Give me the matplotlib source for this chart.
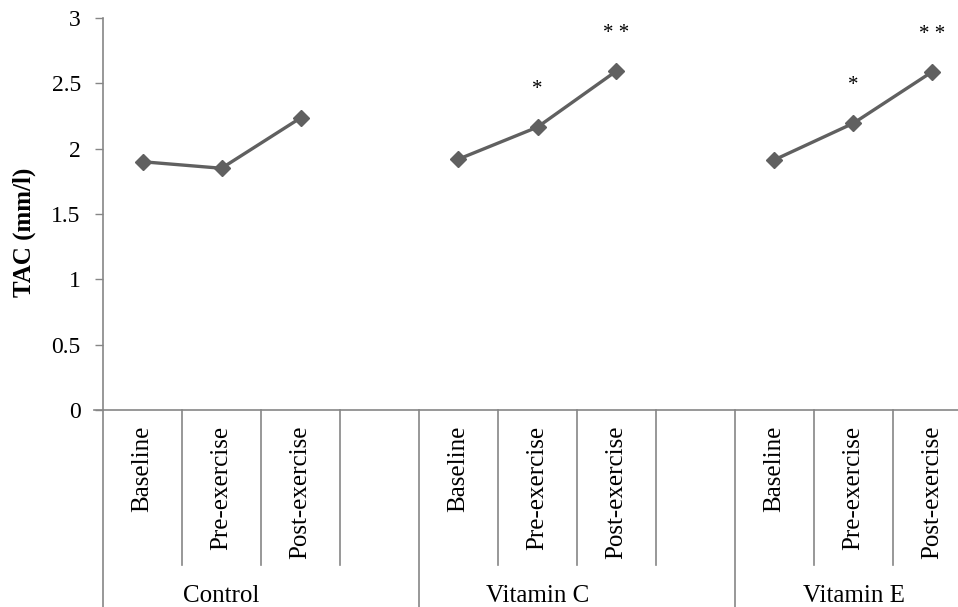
import numpy as np
import matplotlib.pyplot as plt
from matplotlib.transforms import blended_transform_factory

plt.rcParams['font.family'] = ['Liberation Serif', 'DejaVu Serif']

groups = ['Control', 'Vitamin C', 'Vitamin E']
phases = ['Baseline', 'Pre-exercise', 'Post-exercise']
tac = {
    'Control': [1.90, 1.85, 2.235],
    'Vitamin C': [1.92, 2.165, 2.595],
    'Vitamin E': [1.915, 2.195, 2.59],
}
marks = {
    'Control': ['', '', ''],
    'Vitamin C': ['', '*', '* *'],
    'Vitamin E': ['', '*', '* *'],
}

line_col = '#606060'
axis_col = '#868686'

fig = plt.figure(figsize=(9.58, 6.07), dpi=100)
# plot area runs a little past the right edge, as in the source image
ax = fig.add_axes([103 / 958, 197 / 607, 869 / 958, 392 / 607])

slot = 0
for g in groups:
    xs = np.arange(slot, slot + 3)
    ax.plot(xs, tac[g], color=line_col, lw=2.4, marker='D', ms=8.5,
            markerfacecolor=line_col, markeredgecolor=line_col, zorder=3)
    for x, y, m in zip(xs, tac[g], marks[g]):
        if m:
            ax.annotate(m, (x, y), xytext=(0, 27), textcoords='offset points',
                        ha='center', va='center', fontsize=15)
    slot += 4

ax.set_xlim(-0.5, 10.5)
ax.set_ylim(0, 3)
ax.set_yticks(np.arange(0, 3.01, 0.5))
ax.set_yticklabels(['0', '0.5', '1', '1.5', '2', '2.5', '3'])
ax.tick_params(axis='y', direction='out', length=6, width=1, color=axis_col,
               labelsize=17, pad=10)
ax.set_xticks([])
for s in ['top', 'right']:
    ax.spines[s].set_visible(False)
for s in ['left', 'bottom']:
    ax.spines[s].set_color(axis_col)
    ax.spines[s].set_linewidth(1.2)
ax.spines['bottom'].set_bounds(-0.62, 10.5)

fig.text(24 / 958, 1 - 232 / 607, 'TAC (mm/l)', rotation=90, ha='center',
         va='center', fontsize=18, fontweight='bold')

# two-level category axis
tr = blended_transform_factory(ax.transData, ax.transAxes)
slot = 0
for g in groups:
    for i, p in enumerate(phases):
        ax.text(slot + i, -0.04, p, rotation=90, ha='center', va='top',
                fontsize=18, transform=tr, clip_on=False)
    ax.text(slot + 1, -0.475, g, ha='center', va='center', fontsize=18,
            transform=tr, clip_on=False)
    slot += 4

for x in np.arange(0.5, 10.5, 1.0):
    if x in (3.5, 7.5):
        ax.plot([x, x], [0, -0.52], color=axis_col, lw=1.2, transform=tr,
                clip_on=False)
    else:
        ax.plot([x, x], [0, -0.395], color=axis_col, lw=1.2, transform=tr,
                clip_on=False)
ax.plot([-0.5, -0.5], [0, -0.52], color=axis_col, lw=1.2, transform=tr,
        clip_on=False)

fig.savefig('out.png', dpi=100)
